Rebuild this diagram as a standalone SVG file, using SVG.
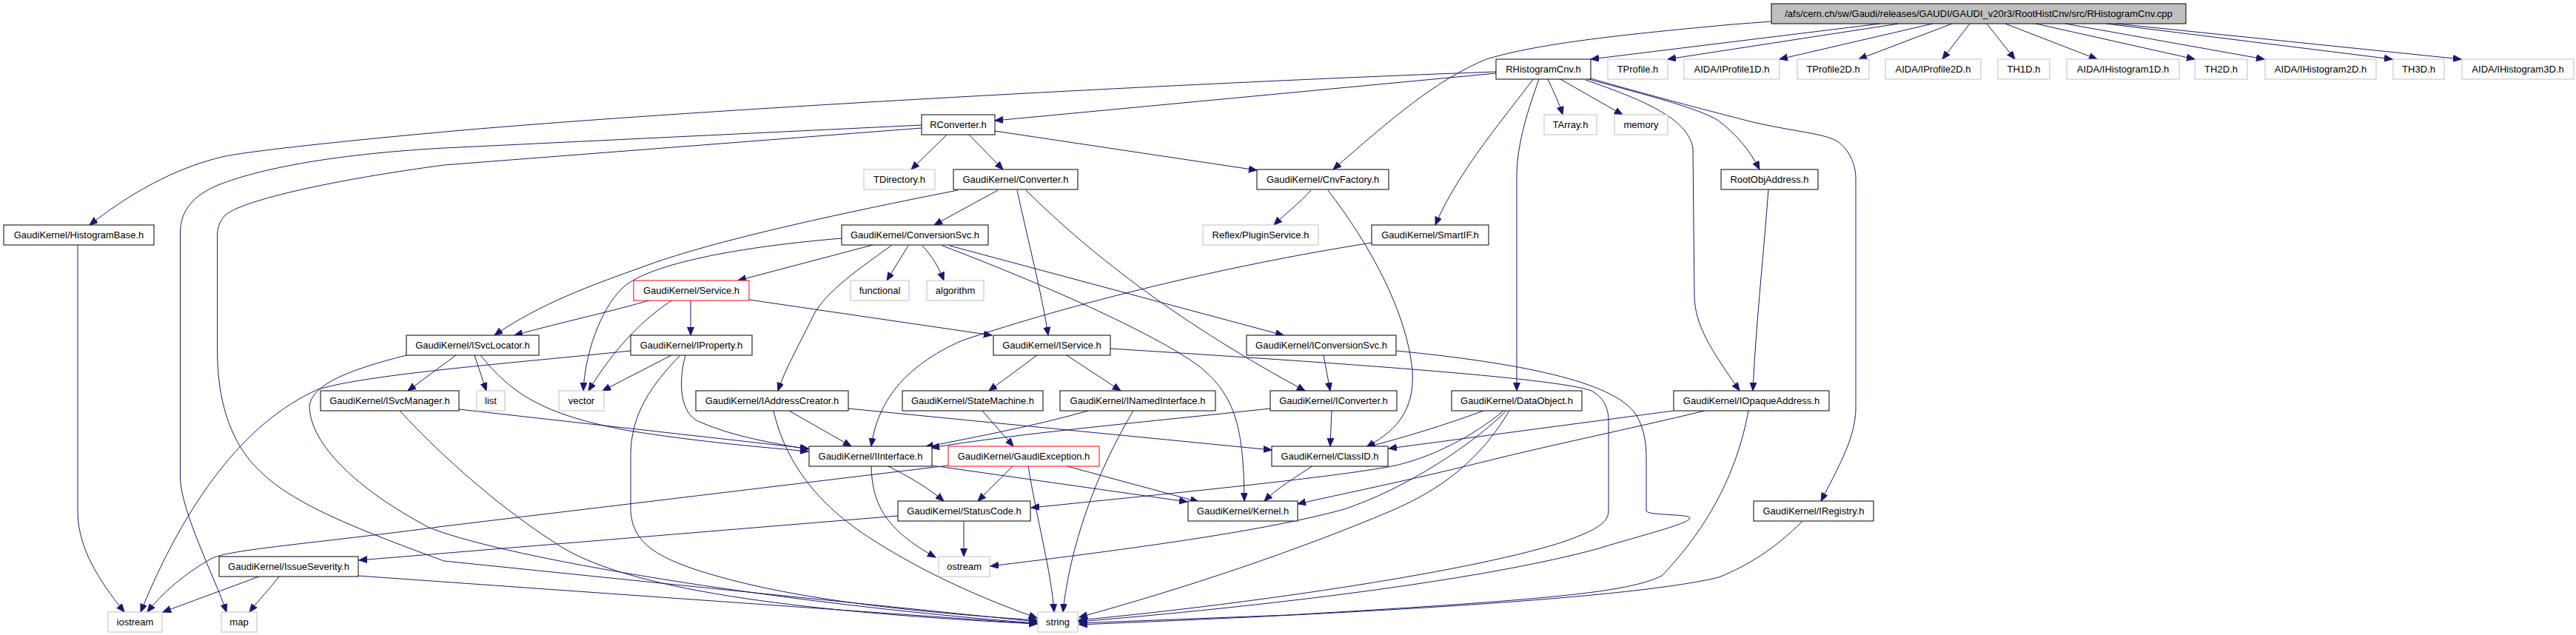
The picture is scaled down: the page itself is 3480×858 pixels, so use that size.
<svg xmlns="http://www.w3.org/2000/svg" width="3480" height="858" viewBox="0 0 3480 858">
<defs>
<style>
.node rect{fill:#fff;stroke:#000;stroke-width:1}
.node.g rect{stroke:#bfbfbf}
.node.r rect{stroke:#ff0000}
.node.top rect{fill:#bfbfbf}
.node text{font-family:"Liberation Sans",Arial,sans-serif;font-size:13px;text-anchor:middle;fill:#000}
.edges path{fill:none;stroke:#191970;stroke-width:1;marker-end:url(#a)}
</style>
<marker id="a" markerWidth="13" markerHeight="11" refX="11" refY="4.5" orient="auto" markerUnits="userSpaceOnUse"><path d="M0,0 L11,4.5 L0,9 z" fill="#191970" stroke="#191970"/></marker>
</defs>
<rect x="0" y="0" width="3480" height="858" fill="#fff"/>
<g class="edges" id="edges">
<path d="M2540,32 L2149,80"/>
<path d="M2565,32 L2253,80"/>
<path d="M2611,32 L2404,80"/>
<path d="M2637,32 L2511,80"/>
<path d="M2661,32 L2624,80"/>
<path d="M2684,32 L2722,80"/>
<path d="M2709,32 L2833,80"/>
<path d="M2750,32 L2965,80"/>
<path d="M2790,32 L3059,80"/>
<path d="M2845,32 L3232,80"/>
<path d="M2858,32 L3325,80"/>
<path d="M2393,29 L2340,33 C2200,46 2080,58 2008,80 C1940,108 1880,160 1801,229"/>
<path d="M2021,99 L1344,163"/>
<path d="M2021,97 C1600,112 900,150 580,180 C450,192 330,205 300,212 C250,224 190,250 121,304"/>
<path d="M2091,107 C2098,122 2106,138 2111,155"/>
<path d="M2108,107 L2192,155"/>
<path d="M2071,107 C2040,150 1970,230 1939,304"/>
<path d="M2079,107 C2060,160 2049,200 2049,240 L2049,528"/>
<path d="M2142,108 C2220,135 2280,160 2287,200 L2289,400 C2290,440 2310,470 2350,528"/>
<path d="M2146,107 C2230,130 2290,145 2320,162 C2345,180 2365,205 2377,229"/>
<path d="M2149,106 C2250,135 2330,155 2360,163 C2420,178 2470,180 2485,193 C2500,205 2507,225 2507,240 L2507,555 C2505,590 2490,620 2460,677"/>
<path d="M1279,182 L1231,229"/>
<path d="M1309,182 L1355,229"/>
<path d="M1344,177 L1698,230"/>
<path d="M1245,169 L600,200 C420,210 330,235 290,252 C255,268 244,290 243.5,313 L243.5,645 C244,690 290,780 306,827"/>
<path d="M1245,173 L600,223 C450,243 330,270 305,290 C295,300 294,310 293.6,317 L293.6,475 C294,540 310,590 340,625 C380,670 440,700 600,758 L1401,840"/>
<path d="M105,331 L105,695 C107,740 130,780 168,827"/>
<path d="M1348,257 L1262,304"/>
<path d="M1294,257 C1100,295 950,330 870,360 C800,385 730,410 668,453"/>
<path d="M1374,257 C1390,330 1408,400 1416,453"/>
<path d="M1386,257 C1480,350 1600,440 1763,528"/>
<path d="M1179,331 L997,379"/>
<path d="M1137,322 C980,335 870,360 840,390 C810,420 790,480 788,528"/>
<path d="M1204,332 C1150,370 1110,400 1097,430 C1080,465 1060,500 1051,528"/>
<path d="M1227,332 L1198,379"/>
<path d="M1246,332 C1258,345 1268,360 1275,379"/>
<path d="M1273,332 C1400,380 1560,450 1620,495 C1670,535 1680,580 1681,677"/>
<path d="M1283,332 L1734,453"/>
<path d="M880,405 C830,420 760,435 695,453"/>
<path d="M909,405 C870,430 830,470 795,528"/>
<path d="M933,405 L933,453"/>
<path d="M1012,405 L1340,453"/>
<path d="M616,480 L551,528"/>
<path d="M641,480 L657,528"/>
<path d="M649,480 C690,530 730,560 850,582 C950,598 1040,605 1092,610"/>
<path d="M549,480 C470,500 420,520 418,550 C420,600 480,660 580,713 C700,760 1100,820 1401,842"/>
<path d="M620,553 L1092,606"/>
<path d="M540,555 C600,620 680,690 760,740 C860,800 1100,828 1401,843"/>
<path d="M907,480 L814,528"/>
<path d="M852,474 C700,490 500,505 430,526 C330,570 250,680 190,827"/>
<path d="M919,480 C880,520 852,560 852,615 L852,691 C855,730 880,750 944,771 C1050,805 1200,825 1401,838"/>
<path d="M926,480 C915,520 920,560 945,570 C990,590 1050,600 1092,607"/>
<path d="M1066,555 L1150,603"/>
<path d="M1045,555 C1060,620 1100,680 1180,730 C1250,775 1330,810 1401,835"/>
<path d="M1146,552 L1718,608"/>
<path d="M1401,480 L1336,528"/>
<path d="M1441,480 L1514,528"/>
<path d="M1500,471 C1800,490 2100,510 2150,528 C2172,540 2173,560 2173,570 L2173,690 C2173,705 2160,715 2115,731 C2000,770 1700,815 1457,838"/>
<path d="M1788,480 L1797,528"/>
<path d="M1886,474 C2050,490 2180,515 2210,560 C2222,580 2224,600 2224,620 L2224,690 C2224,697 2283,694 2283,700 C2283,708 2200,728 2160,741 C2000,785 1700,820 1457,840"/>
<path d="M1327,555 L1369,603"/>
<path d="M1470,555 C1400,575 1320,590 1250,604"/>
<path d="M1531,555 C1480,640 1445,740 1436,827"/>
<path d="M1716,552 C1550,570 1380,585 1258,605"/>
<path d="M1799,555 L1797,603"/>
<path d="M2004,555 C1950,575 1900,590 1847,604"/>
<path d="M2031,555 C1990,590 1930,620 1880,630 C1800,645 1600,665 1393,686"/>
<path d="M2035,555 C1990,600 1900,660 1816,688 C1700,720 1500,745 1338,765"/>
<path d="M2039,555 C2000,620 1950,660 1880,690 C1750,745 1600,795 1458,834"/>
<path d="M2261,555 L1876,606"/>
<path d="M2303,555 C2200,580 2100,600 2000,625 C1900,650 1800,670 1753,681"/>
<path d="M2362,555 C2350,620 2320,700 2245,778 C2200,800 2100,810 1740,831 L1458,842"/>
<path d="M2389,256 C2382,350 2372,440 2368,528"/>
<path d="M2435,704 C2400,740 2360,765 2322,780 C2200,810 1800,830 1458,844"/>
<path d="M1771,257 C1755,275 1735,290 1721,304"/>
<path d="M1794,257 C1850,330 1900,420 1908,500 C1912,560 1880,585 1846,604"/>
<path d="M1853,328 C1650,360 1450,410 1300,460 C1220,495 1185,545 1177,603"/>
<path d="M1198,629 C1230,645 1255,660 1275,677"/>
<path d="M1177,629 C1178,680 1195,715 1264,753"/>
<path d="M1259,629 L1604,678"/>
<path d="M1369,629 L1321,677"/>
<path d="M1389,629 C1400,700 1420,770 1424,827"/>
<path d="M1438,629 L1619,678"/>
<path d="M1281,629 L600,711 C420,735 310,742 285,755 C250,775 220,800 199,827"/>
<path d="M1774,629 C1750,645 1725,660 1708,677"/>
<path d="M1302,704 L1302,752"/>
<path d="M1213,697 L485,757"/>
<path d="M350,779 L220,827"/>
<path d="M377,779 C365,795 350,810 337,827"/>
<path d="M484,778 L1401,843"/>
</g>
<g id="n_top" class="node top"><rect x="2393" y="5" width="560" height="27"/><text x="2673" y="23">/afs/cern.ch/sw/Gaudi/releases/GAUDI/GAUDI_v20r3/RootHistCnv/src/RHistogramCnv.cpp</text></g>
<g id="n_rhistogramcnv" class="node"><rect x="2021" y="80" width="128" height="27"/><text x="2085" y="98">RHistogramCnv.h</text></g>
<g id="n_tprofile" class="node g"><rect x="2172" y="80" width="81" height="27"/><text x="2212.5" y="98">TProfile.h</text></g>
<g id="n_iprofile1d" class="node g"><rect x="2275" y="80" width="129" height="27"/><text x="2339.5" y="98">AIDA/IProfile1D.h</text></g>
<g id="n_tprofile2d" class="node g"><rect x="2428" y="80" width="97" height="27"/><text x="2476.5" y="98">TProfile2D.h</text></g>
<g id="n_iprofile2d" class="node g"><rect x="2547" y="80" width="129" height="27"/><text x="2611.5" y="98">AIDA/IProfile2D.h</text></g>
<g id="n_th1d" class="node g"><rect x="2699" y="80" width="70" height="27"/><text x="2734" y="98">TH1D.h</text></g>
<g id="n_ihistogram1d" class="node g"><rect x="2792" y="80" width="152" height="27"/><text x="2868" y="98">AIDA/IHistogram1D.h</text></g>
<g id="n_th2d" class="node g"><rect x="2965" y="80" width="71" height="27"/><text x="3000.5" y="98">TH2D.h</text></g>
<g id="n_ihistogram2d" class="node g"><rect x="3060" y="80" width="150" height="27"/><text x="3135" y="98">AIDA/IHistogram2D.h</text></g>
<g id="n_th3d" class="node g"><rect x="3233" y="80" width="69" height="27"/><text x="3267.5" y="98">TH3D.h</text></g>
<g id="n_ihistogram3d" class="node g"><rect x="3326" y="80" width="151" height="27"/><text x="3401.5" y="98">AIDA/IHistogram3D.h</text></g>
<g id="n_rconverter" class="node"><rect x="1245" y="155" width="99" height="27"/><text x="1294.5" y="173">RConverter.h</text></g>
<g id="n_tarray" class="node g"><rect x="2086" y="155" width="71" height="27"/><text x="2121.5" y="173">TArray.h</text></g>
<g id="n_memory" class="node g"><rect x="2181" y="155" width="72" height="27"/><text x="2217" y="173">memory</text></g>
<g id="n_tdirectory" class="node g"><rect x="1167" y="229" width="96" height="27"/><text x="1215" y="247">TDirectory.h</text></g>
<g id="n_converter" class="node"><rect x="1288" y="229" width="168" height="27"/><text x="1372" y="247">GaudiKernel/Converter.h</text></g>
<g id="n_cnvfactory" class="node"><rect x="1698" y="229" width="178" height="27"/><text x="1787" y="247">GaudiKernel/CnvFactory.h</text></g>
<g id="n_rootobjaddress" class="node"><rect x="2325" y="229" width="131" height="27"/><text x="2390.5" y="247">RootObjAddress.h</text></g>
<g id="n_histogrambase" class="node"><rect x="5" y="304" width="203" height="27"/><text x="106.5" y="322">GaudiKernel/HistogramBase.h</text></g>
<g id="n_conversionsvc" class="node"><rect x="1137" y="304" width="198" height="27"/><text x="1236" y="322">GaudiKernel/ConversionSvc.h</text></g>
<g id="n_pluginservice" class="node g"><rect x="1625" y="304" width="156" height="27"/><text x="1703" y="322">Reflex/PluginService.h</text></g>
<g id="n_smartif" class="node"><rect x="1853" y="304" width="158" height="27"/><text x="1932" y="322">GaudiKernel/SmartIF.h</text></g>
<g id="n_service" class="node r"><rect x="856" y="379" width="156" height="27"/><text x="934" y="397">GaudiKernel/Service.h</text></g>
<g id="n_functional" class="node g"><rect x="1149" y="379" width="79" height="27"/><text x="1188.5" y="397">functional</text></g>
<g id="n_algorithm" class="node g"><rect x="1252" y="379" width="77" height="27"/><text x="1290.5" y="397">algorithm</text></g>
<g id="n_isvclocator" class="node"><rect x="549" y="453" width="179" height="27"/><text x="638.5" y="471">GaudiKernel/ISvcLocator.h</text></g>
<g id="n_iproperty" class="node"><rect x="852" y="453" width="164" height="27"/><text x="934" y="471">GaudiKernel/IProperty.h</text></g>
<g id="n_iservice" class="node"><rect x="1342" y="453" width="158" height="27"/><text x="1421" y="471">GaudiKernel/IService.h</text></g>
<g id="n_iconversionsvc" class="node"><rect x="1684" y="453" width="202" height="27"/><text x="1785" y="471">GaudiKernel/IConversionSvc.h</text></g>
<g id="n_isvcmanager" class="node"><rect x="433" y="528" width="187" height="27"/><text x="526.5" y="546">GaudiKernel/ISvcManager.h</text></g>
<g id="n_list" class="node g"><rect x="644" y="528" width="38" height="27"/><text x="663" y="546">list</text></g>
<g id="n_vector" class="node g"><rect x="755" y="528" width="61" height="27"/><text x="785.5" y="546">vector</text></g>
<g id="n_iaddresscreator" class="node"><rect x="940" y="528" width="206" height="27"/><text x="1043" y="546">GaudiKernel/IAddressCreator.h</text></g>
<g id="n_statemachine" class="node"><rect x="1219" y="528" width="190" height="27"/><text x="1314" y="546">GaudiKernel/StateMachine.h</text></g>
<g id="n_inamedinterface" class="node"><rect x="1432" y="528" width="210" height="27"/><text x="1537" y="546">GaudiKernel/INamedInterface.h</text></g>
<g id="n_iconverter" class="node"><rect x="1716" y="528" width="171" height="27"/><text x="1801.5" y="546">GaudiKernel/IConverter.h</text></g>
<g id="n_dataobject" class="node"><rect x="1961" y="528" width="176" height="27"/><text x="2049" y="546">GaudiKernel/DataObject.h</text></g>
<g id="n_iopaqueaddress" class="node"><rect x="2261" y="528" width="210" height="27"/><text x="2366" y="546">GaudiKernel/IOpaqueAddress.h</text></g>
<g id="n_iinterface" class="node"><rect x="1093" y="603" width="166" height="27"/><text x="1176" y="621">GaudiKernel/IInterface.h</text></g>
<g id="n_gaudiexception" class="node r"><rect x="1281" y="603" width="204" height="27"/><text x="1383" y="621">GaudiKernel/GaudiException.h</text></g>
<g id="n_classid" class="node"><rect x="1718" y="603" width="157" height="27"/><text x="1796.5" y="621">GaudiKernel/ClassID.h</text></g>
<g id="n_statuscode" class="node"><rect x="1213" y="677" width="179" height="27"/><text x="1302.5" y="695">GaudiKernel/StatusCode.h</text></g>
<g id="n_kernel" class="node"><rect x="1605" y="677" width="148" height="27"/><text x="1679" y="695">GaudiKernel/Kernel.h</text></g>
<g id="n_iregistry" class="node"><rect x="2369" y="677" width="162" height="27"/><text x="2450" y="695">GaudiKernel/IRegistry.h</text></g>
<g id="n_issueseverity" class="node"><rect x="296" y="752" width="188" height="27"/><text x="390" y="770">GaudiKernel/IssueSeverity.h</text></g>
<g id="n_ostream" class="node g"><rect x="1268" y="752" width="69" height="27"/><text x="1302.5" y="770">ostream</text></g>
<g id="n_iostream" class="node g"><rect x="146" y="827" width="73" height="27"/><text x="182.5" y="845">iostream</text></g>
<g id="n_map" class="node g"><rect x="299" y="827" width="48" height="27"/><text x="323" y="845">map</text></g>
<g id="n_string" class="node g"><rect x="1402" y="827" width="54" height="27"/><text x="1429" y="845">string</text></g>
</svg>
